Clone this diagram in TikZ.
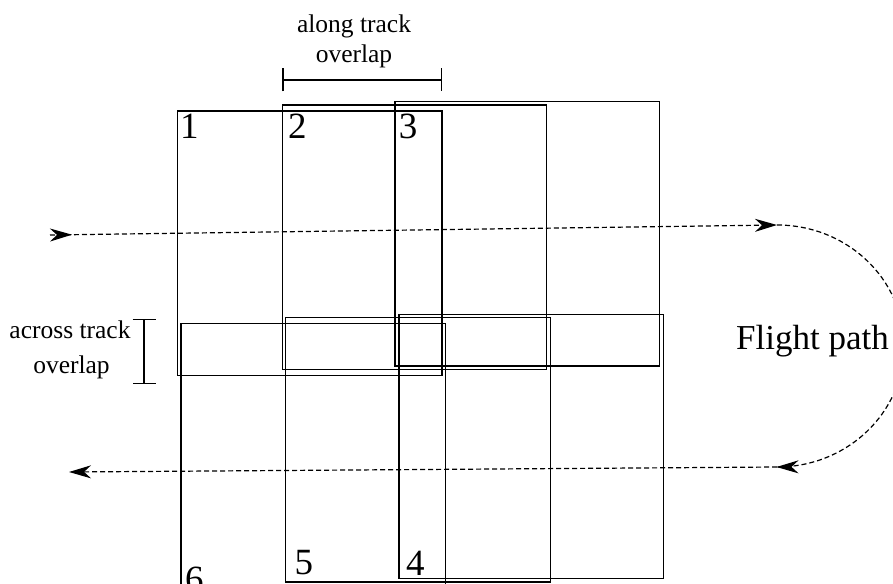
\documentclass[tikz,border=0pt]{standalone}
\usepackage{fontspec}
\setmainfont{Liberation Serif}
\usetikzlibrary{arrows.meta,decorations.markings}
\tikzset{
  footprint/.style={draw=black, line width=1.4pt, inner sep=0pt, minimum width=264.5pt, minimum height=264.3pt},
  numlabel/.style={anchor=base west, inner sep=0pt, font=\fontsize{37}{42}\selectfont},
  smalltext/.style={anchor=base, inner sep=0pt, font=\fontsize{25.5}{30}\selectfont},
  flight/.style={line width=1.2pt, dash pattern=on 5pt off 3pt},
  fhead/.tip={Stealth[length=22pt, width=13pt, inset=7pt]},
  dimbar/.style={line width=1.4pt, {Bar[width=23pt]}-{Bar[width=23pt]}}
}
\begin{document}
\begin{tikzpicture}[x=1pt, y=-1pt]
\useasboundingbox (0,0) rectangle (893,583);
% footprints
\node[footprint] (r1) at (309.65,243.15) {};
\node[footprint] (r2) at (414.5,237.25) {};
\node[footprint] (r3) at (527.4,233.85) {};
\node[footprint] (r6) at (313.35,455.85) {};
\node[footprint] (r5) at (418,449.7) {};
\node[footprint] (r4) at (531.2,446.5) {};
% numbers
\node[numlabel] (n1) at (180,138) {1};
\node[numlabel] (n2) at (288,138.5) {2};
\node[numlabel] (n3) at (398.7,139) {3};
\node[numlabel] (n6) at (185,591) {6};
\node[numlabel] (n5) at (294.5,574) {5};
\node[numlabel] (n4) at (406,575) {4};
% along track overlap
\node[smalltext] (al1) at (354,33) {along track};
\node[smalltext] (al2) at (354,63) {overlap};
\coordinate (aa) at (282.3,80);
\coordinate (ab) at (442.3,80);
\draw[dimbar] (aa) -- (ab);
% across track overlap
\node[smalltext] (ac1) at (70,338) {across track};
\node[smalltext] (ac2) at (71.5,373) {overlap};
\coordinate (ca) at (144,319);
\coordinate (cb) at (144,384);
\draw[dimbar] (ca) -- (cb);
% flight path
\coordinate (tl) at (50,235);
\coordinate (tr) at (777,225);
\coordinate (br) at (777,467);
\coordinate (bl) at (69,472);
\draw[flight, -{fhead}, postaction={decorate},
  decoration={markings, mark=at position 22pt with {\arrow{fhead}}}] (tl) -- (tr);
\draw[flight] (tr) arc[start angle=-90, end angle=90, x radius=127, y radius=121];
\draw[flight, -{fhead}, postaction={decorate},
  decoration={markings, mark=at position 0.5pt with {\arrow{fhead}}}] (br) -- (bl);
\node[anchor=base west, inner sep=0pt, font=\fontsize{35}{40}\selectfont] (fp) at (736,349) {Flight path};
\end{tikzpicture}
\end{document}
